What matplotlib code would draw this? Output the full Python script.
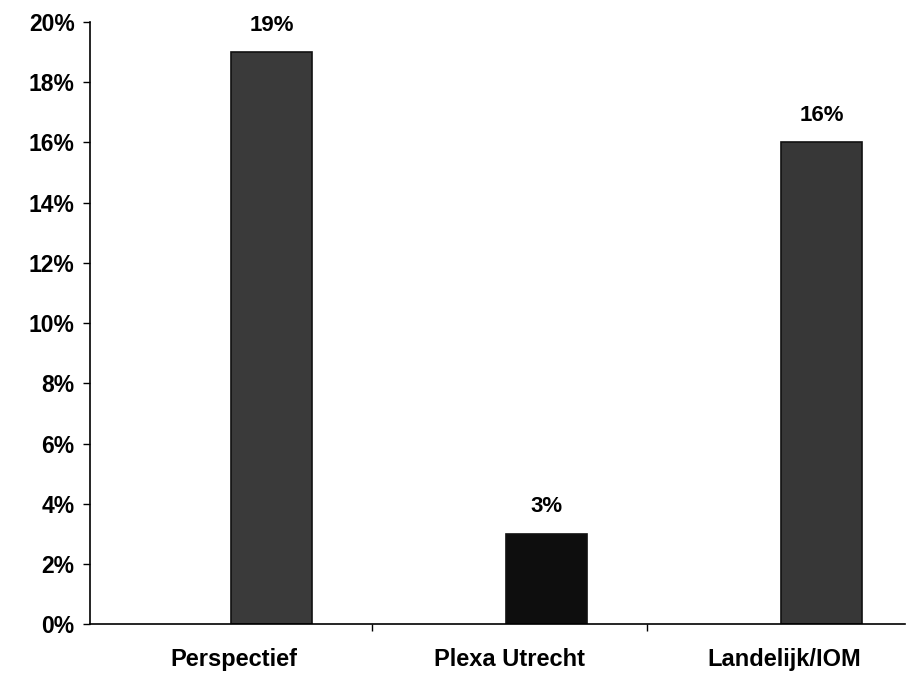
import numpy as np
import matplotlib
matplotlib.use("Agg")
import matplotlib.pyplot as plt
from matplotlib.ticker import FuncFormatter

categories_l = ["Perspectief", "Plexa Utrecht", "Landelijk/IOM"]
values_l = [19, 3, 16]
labels_l = ["19%", "3%", "16%"]
colors_l = ["#3a3a3a", "#0e0e0e", "#373737"]

plt.rcParams["font.family"] = ["Liberation Sans", "DejaVu Sans"]
plt.rcParams["font.weight"] = "bold"

fig = plt.figure(figsize=(9.08, 6.77), dpi=100)
ax = fig.add_axes([0.099, 0.078, 0.898, 0.8895])

pos_l = np.arange(len(categories_l))
offset_f = 0.135
width_f = 0.295
bars = ax.bar(pos_l + offset_f, values_l, width=width_f, color=colors_l,
              edgecolor="#111111", linewidth=1.2)

for bar_u, lab_s in zip(bars, labels_l):
    ax.text(bar_u.get_x() + bar_u.get_width() / 2, bar_u.get_height() + 0.55,
            lab_s, ha="center", va="bottom", fontsize=16, fontweight="bold")

ax.set_xlim(-0.525, 2.438)
ax.set_ylim(0, 20)
ax.set_yticks(range(0, 21, 2))
ax.yaxis.set_major_formatter(FuncFormatter(lambda v, p: f"{int(v)}%"))
ax.set_xticks(pos_l, categories_l)
ax.set_xticks([0.5, 1.5], minor=True)
ax.tick_params(axis="x", which="major", length=0, pad=17, labelsize=17)
ax.tick_params(axis="x", which="minor", length=5, width=1, direction="out")
ax.tick_params(axis="y", which="major", length=5, width=1, direction="out",
               labelsize=16.5, pad=6)

for side_s in ["top", "right"]:
    ax.spines[side_s].set_visible(False)
ax.spines["left"].set_linewidth(1.2)
ax.spines["bottom"].set_linewidth(1.2)

fig.savefig("out.png", dpi=100)
